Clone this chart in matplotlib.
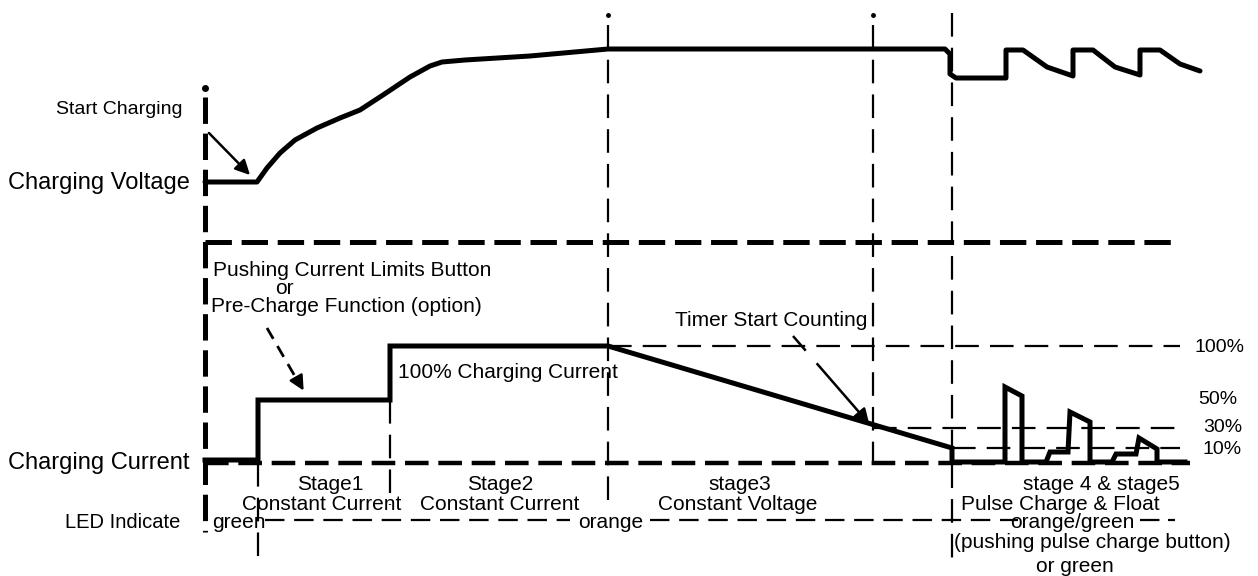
import matplotlib.pyplot as plt

plt.rcParams['font.family'] = ['Liberation Sans', 'DejaVu Sans']
plt.rcParams['lines.scale_dashes'] = False

# diagram drawn on the pixel grid of the original sheet (y grows downward)
t_start, t_stage1, t_stage2, t_stage3, t_timer, t_stage4 = 205, 258, 390, 608, 873, 952
lvl_zero, lvl_100, lvl_30, lvl_10 = 463, 346, 428, 448

voltage_x = [205, 257, 267, 280, 295, 317, 340, 360, 383, 410, 430, 442, 465, 530, 608,
             945, 950, 950, 956, 1006, 1006, 1023, 1047, 1073, 1073, 1093, 1115, 1140,
             1140, 1160, 1180, 1200]
voltage_y = [182, 182, 168, 153, 140, 128, 118, 110, 95, 77, 66, 62, 60, 56, 49,
             49, 54, 74, 78, 78, 50, 50, 67, 76, 50, 50, 67, 75,
             50, 50, 64, 71]

current_x = [205, 258, 258, 390, 390, 608, 952, 952, 1005, 1005, 1022, 1022, 1046, 1050,
             1068, 1070, 1090, 1090, 1112, 1116, 1136, 1139, 1157, 1157, 1185]
current_y = [460, 460, 400, 400, 346, 346, 448, 462, 462, 387, 396, 462, 462, 452,
             452, 412, 422, 462, 462, 454, 454, 438, 449, 462, 462]

guide_x = [t_stage1, t_stage2, t_stage3, t_timer, t_stage4]
guide_top = [463, 400, 25, 25, 13]
guide_bottom = [560, 505, 505, 465, 565]
guide_dot = [False, False, True, True, False]

pct_labels = ['100%', '50%', '30%', '10%']
pct_y = [347, 400, 428, 450]
pct_x = [1195, 1198, 1203, 1203]

led_segments = [(265, 570), (650, 1018), (1140, 1160), (1168, 1175)]

fig = plt.figure(figsize=(12.58, 5.76), dpi=100)
ax = fig.add_axes([0, 0, 1, 1])
ax.set_xlim(0, 1258)
ax.set_ylim(576, 0)
ax.axis('off')

k = 'black'
thin = dict(color=k, lw=1.6, dashes=(17, 8), solid_capstyle='butt', dash_capstyle='butt')
thick = dict(color=k, lw=3.6, dashes=(19, 7), dash_capstyle='butt')

# heading, almost entirely cut off at the top edge as in the original
ax.text(18, -10, 'Charging Diagram (Figure)', fontsize=28, fontweight='bold',
        va='baseline', ha='left')

# left axis (thick dash-dot)
ax.plot([t_start, t_start], [97, 532], **thick)
ax.plot([t_start], [88], 'o', color=k, ms=4)

# vertical stage guides
for x, y0, y1, dot in zip(guide_x, guide_top, guide_bottom, guide_dot):
    ax.plot([x, x], [y0, y1], **thin)
    if dot:
        ax.plot([x], [15], 'o', color=k, ms=2.5)

# horizontal guides
ax.plot([t_start, 1180], [242, 242], **thick)
ax.plot([t_start, 1190], [lvl_zero, lvl_zero], color=k, lw=3.2, dashes=(17, 7))
ax.plot([t_stage3, 1180], [lvl_100, lvl_100], **thin)
ax.plot([t_timer, 1180], [lvl_30, lvl_30], **thin)
ax.plot([t_stage4, 1180], [lvl_10, lvl_10], **thin)
for a, b in led_segments:
    ax.plot([a, b], [520, 520], color=k, lw=1.6, dashes=(14, 7))

# curves
ax.plot(voltage_x, voltage_y, color=k, lw=3.6, solid_joinstyle='round', solid_capstyle='round')
ax.plot(current_x, current_y, color=k, lw=3.6, solid_joinstyle='miter')

# arrows
ax.annotate('', xy=(252, 177), xytext=(207, 131),
            arrowprops=dict(arrowstyle='-|>', color=k, lw=1.8, mutation_scale=22))
ax.plot([267, 300], [328, 385], color=k, lw=2, dashes=(9, 6))
ax.annotate('', xy=(305, 393), xytext=(297, 379),
            arrowprops=dict(arrowstyle='-|>', color=k, lw=1.8, mutation_scale=22))
ax.plot([793, 865], [336, 419], color=k, lw=1.8, dashes=(14, 12, 60, 1))
ax.annotate('', xy=(871, 426), xytext=(860, 413),
            arrowprops=dict(arrowstyle='-|>', color=k, lw=1.8, mutation_scale=22))

# texts
mid = 15
ax.text(183, 110, 'Start Charging', fontsize=14, ha='right', va='center')
ax.text(8, 183, 'Charging Voltage', fontsize=17, ha='left', va='center')
ax.text(8, 463, 'Charging Current', fontsize=17, ha='left', va='center')
ax.text(180, 522, 'LED Indicate', fontsize=14.5, ha='right', va='center')
ax.text(213, 271, 'Pushing Current Limits Button', fontsize=mid, ha='left', va='center')
ax.text(275, 289, 'or', fontsize=mid, ha='left', va='center')
ax.text(211, 307, 'Pre-Charge Function (option)', fontsize=mid, ha='left', va='center')
ax.text(398, 372, '100% Charging Current', fontsize=mid, ha='left', va='center')
ax.text(867, 321, 'Timer Start Counting', fontsize=mid, ha='right', va='center')

ax.text(330, 485, 'Stage1', fontsize=mid, ha='center', va='center')
ax.text(322, 505, 'Constant Current', fontsize=mid, ha='center', va='center')
ax.text(500, 485, 'Stage2', fontsize=mid, ha='center', va='center')
ax.text(500, 505, 'Constant Current', fontsize=mid, ha='center', va='center')
ax.text(740, 485, 'stage3', fontsize=mid, ha='center', va='center')
ax.text(738, 505, 'Constant Voltage', fontsize=mid, ha='center', va='center')
ax.text(1101, 485, 'stage 4 & stage5', fontsize=mid, ha='center', va='center')
ax.text(1060, 505, 'Pulse Charge & Float', fontsize=mid, ha='center', va='center')
ax.text(1072, 522, 'orange/green', fontsize=mid, ha='center', va='center')
ax.text(1092, 543, '(pushing pulse charge button)', fontsize=mid, ha='center', va='center')
ax.text(1075, 566, 'or green', fontsize=mid, ha='center', va='center')

ax.text(212, 522, 'green', fontsize=mid, ha='left', va='center')
ax.text(578, 522, 'orange', fontsize=mid, ha='left', va='center')

for lab, x, y in zip(pct_labels, pct_x, pct_y):
    ax.text(x, y, lab, fontsize=14, ha='left', va='center')

fig.savefig('out.png', dpi=100)
